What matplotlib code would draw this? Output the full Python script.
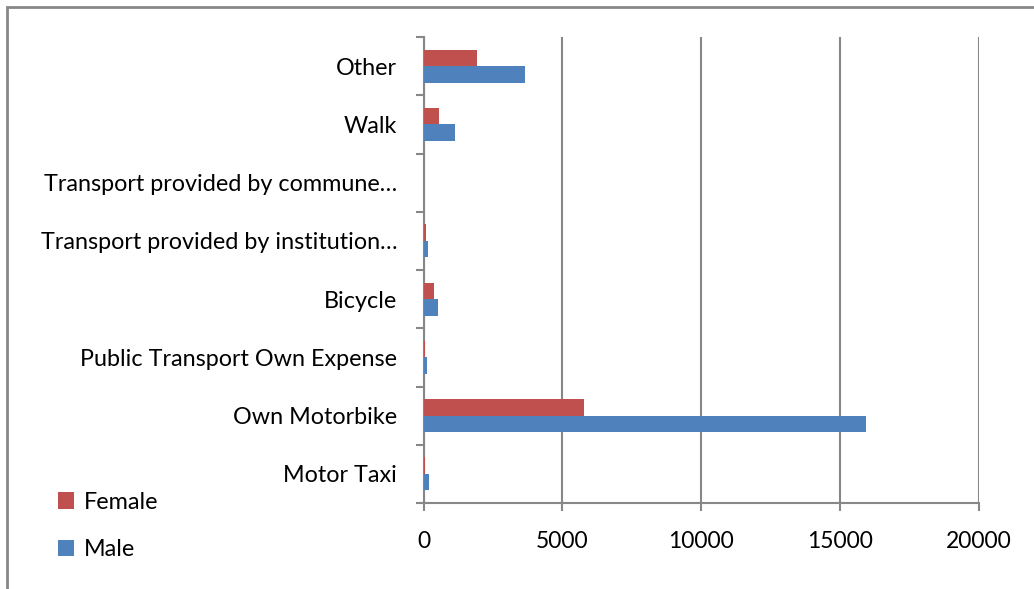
import numpy as np
import matplotlib.pyplot as plt
from matplotlib.patches import Rectangle

categories = ['Motor Taxi', 'Own Motorbike', 'Public Transport Own Expense', 'Bicycle',
              'Transport provided by institution\u2026', 'Transport provided by commune\u2026',
              'Walk', 'Other']
female = [40, 5790, 50, 385, 80, 0, 553, 1940]
male = [190, 15920, 110, 505, 160, 0, 1144, 3650]
xticks = [0, 5000, 10000, 15000, 20000]

plt.rcParams['font.family'] = ['Lato', 'DejaVu Sans']
grey = '#878787'

fig = plt.figure(figsize=(10.34, 5.89), dpi=100)
ax = fig.add_axes([423.5 / 1034, 86 / 589, 555.5 / 1034, 466 / 589])

y = np.arange(len(categories))
h = 0.285
bm = ax.barh(y - h / 2, male, height=h, color='#4F81BD', label='Male', zorder=3)
bf = ax.barh(y + h / 2, female, height=h, color='#C0504D', label='Female', zorder=3)

ax.set_xlim(0, 20000)
ax.set_ylim(-0.5, len(categories) - 0.5)
ax.set_xticks(xticks)
ax.set_xticklabels([str(v) for v in xticks], fontsize=16.5)
ax.set_yticks(y)
ax.set_yticklabels(categories, fontsize=16.8)
ax.set_yticks(np.arange(-0.5, len(categories)), minor=True)
ax.tick_params(axis='y', which='major', length=0, pad=19)
ax.tick_params(axis='y', which='minor', length=6, width=1.5, color=grey)
ax.tick_params(axis='x', length=6, width=1.5, color=grey, pad=14)
ax.grid(axis='x', color=grey, linewidth=1.5, zorder=0)

for s in ['top', 'right']:
    ax.spines[s].set_visible(False)
for s in ['left', 'bottom']:
    ax.spines[s].set_color(grey)
    ax.spines[s].set_linewidth(1.5)

fig.legend(handles=[bf, bm], labels=['Female', 'Male'], loc='center left',
           bbox_to_anchor=(37 / 1034, 1 - 526 / 589), frameon=False, fontsize=16.8,
           handlelength=0.7, handleheight=0.7, handletextpad=0.4, labelspacing=1.15)

fig.patches.append(Rectangle((7 / 1034, -0.1), 1.2, 1.1 - 7 / 589, transform=fig.transFigure,
                             fill=False, edgecolor=grey, linewidth=2))

fig.savefig('out.png', dpi=100)
